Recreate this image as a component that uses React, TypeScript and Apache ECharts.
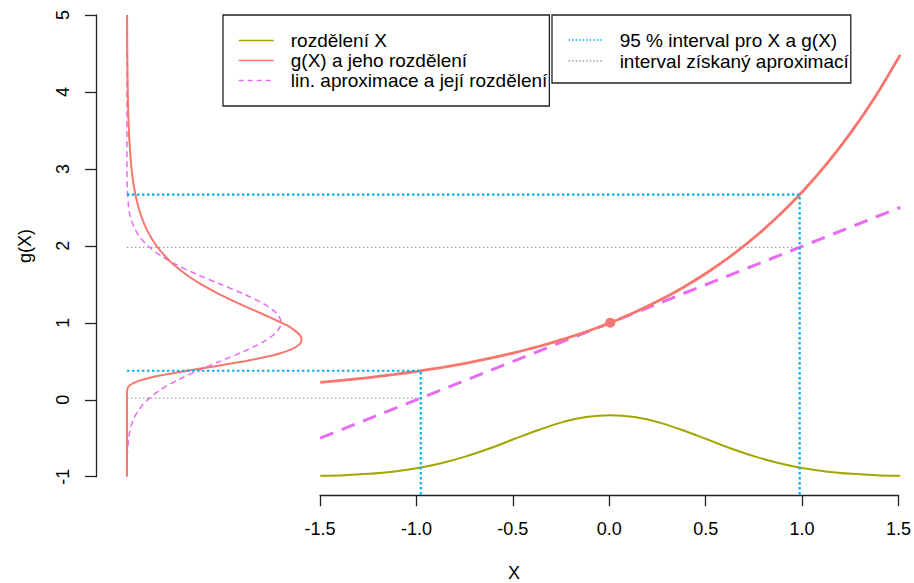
import React, { useEffect, useRef } from 'react';
import * as echarts from 'echarts';

const FONT = '"Liberation Sans", Arial, Helvetica, sans-serif';

// Axis ticks
const xTicks = [-1.5, -1.0, -0.5, 0.0, 0.5, 1.0, 1.5];
const yTicks = [-1, 0, 1, 2, 3, 4, 5];

// Right part: X, g(X)=exp(X), density of X (drawn from baseline -1)
const xValues = [-1.5, -1.375, -1.25, -1.125, -1, -0.875, -0.75, -0.625, -0.5, -0.375, -0.25, -0.125, 0,
  0.125, 0.25, 0.375, 0.5, 0.625, 0.75, 0.875, 1, 1.125, 1.25, 1.375, 1.5];
const gOfX = [0.223, 0.253, 0.287, 0.325, 0.368, 0.417, 0.472, 0.535, 0.607, 0.687, 0.779, 0.882, 1.0,
  1.133, 1.284, 1.455, 1.649, 1.868, 2.117, 2.399, 2.718, 3.08, 3.49, 3.955, 4.482];
const densityX = [-0.991, -0.982, -0.965, -0.937, -0.892, -0.827, -0.741, -0.635, -0.516, -0.398, -0.296, -0.227, -0.202,
  -0.227, -0.296, -0.398, -0.516, -0.635, -0.741, -0.827, -0.892, -0.937, -0.965, -0.982, -0.991];

// Linear approximation
const linApproxX = [-1.5, 1.5];
const linApproxY = [-0.5, 2.5];

// Left part: densities drawn sideways from a baseline
const densityBaseline = -2.5;
const gLevels = [-1, 0, 0.1, 0.15, 0.175, 0.2, 0.225, 0.25, 0.275, 0.3, 0.325, 0.35, 0.375, 0.4, 0.45, 0.5, 0.55,
  0.6, 0.65, 0.7, 0.75, 0.8, 0.85, 0.9, 0.95, 1.0, 1.05, 1.1, 1.2, 1.3, 1.4, 1.5, 1.6, 1.7, 1.8, 2.0, 2.2, 2.4,
  2.6, 2.8, 3.0, 3.5, 4.0, 4.5, 5.0];
const gDensity = [0, 0, 0.0002, 0.004, 0.0105, 0.0225, 0.0414, 0.0684, 0.1035, 0.1464, 0.1963, 0.2515, 0.3106,
  0.372, 0.4954, 0.6104, 0.7098, 0.7891, 0.8469, 0.8838, 0.9015, 0.9028, 0.8904, 0.8671, 0.8399, 0.7979, 0.7563,
  0.7123, 0.6222, 0.5349, 0.4545, 0.3829, 0.3206, 0.2673, 0.2221, 0.1526, 0.1046, 0.0718, 0.0494, 0.0342, 0.0238,
  0.0099, 0.0043, 0.0019, 0.0009];
const linLevels = [-1, -0.75, -0.5, -0.375, -0.25, -0.125, 0, 0.125, 0.25, 0.375, 0.5, 0.625, 0.75, 0.875, 1,
  1.125, 1.25, 1.375, 1.5, 1.625, 1.75, 1.875, 2, 2.125, 2.25, 2.375, 2.5, 2.75, 3, 3.5, 4, 4.5, 5];
const linDensity = [0.0003, 0.0017, 0.0089, 0.0182, 0.0351, 0.0635, 0.108, 0.1726, 0.2591, 0.3653, 0.4839, 0.6023,
  0.7041, 0.7733, 0.7979, 0.7733, 0.7041, 0.6023, 0.4839, 0.3653, 0.2591, 0.1726, 0.108, 0.0635, 0.0351, 0.0182,
  0.0089, 0.0017, 0.0003, 0, 0, 0, 0];

// Intervals
const xInterval = [-0.98, 0.98];
const gInterval = [0.375, 2.664];
const approxInterval = [0.02, 1.98];
const centerPoint = [0, 1];
const plotBottom = -1.24;

// Legend labels
const legendLeft = ['rozdělení X', 'g(X) a jeho rozdělení', 'lin. aproximace a její rozdělení'];
const legendRight = ['95 % interval pro X a g(X)', 'interval získaný aproximací'];

const GREEN = '#A3A500';
const RED = '#F8766D';
const MAGENTA = '#E76BF3';
const BLUE = '#00B0F6';
const GRAY = '#9E9E9E';

const hiddenSymbol = { color: 'rgba(0,0,0,0)', borderWidth: 0, opacity: 0 };

function buildOption(): any {
  const line = (name: string, data: number[][], color: string, width: number, type: any, smooth: any = false) => ({
    type: 'line', name, data, symbol: 'none', smooth, silent: true,
    xAxisIndex: 0, yAxisIndex: 0,
    lineStyle: { color, width, type }, itemStyle: { color },
  });

  const gMain = xValues.map((x, i) => [x, gOfX[i]]);
  const dX = xValues.map((x, i) => [x, densityX[i]]);
  const lin = linApproxX.map((x, i) => [x, linApproxY[i]]);
  const gLeft = gLevels.map((y, i) => [densityBaseline + gDensity[i], y]);
  const linLeft = linLevels.map((y, i) => [densityBaseline + linDensity[i], y]);

  const blue1 = [[densityBaseline, gInterval[0]], [xInterval[0], gInterval[0]], [xInterval[0], plotBottom]];
  const blue2 = [[densityBaseline, gInterval[1]], [xInterval[1], gInterval[1]], [xInterval[1], plotBottom]];
  const gray1 = [[densityBaseline, approxInterval[0]], [xInterval[0], approxInterval[0]]];
  const gray2 = [[densityBaseline, approxInterval[1]], [xInterval[1], approxInterval[1]]];

  const textStyle = { fontFamily: FONT, color: '#000' };

  return {
    animation: false,
    backgroundColor: '#ffffff',
    textStyle,
    grid: [
      { left: 96, top: 0, width: 818, height: 495 },
      { left: 96, top: 15, width: 10, height: 461.7 },
      { left: 320, top: 485, width: 580, height: 10.3 },
    ],
    xAxis: [
      { gridIndex: 0, type: 'value', min: -2.66, max: 1.5714, show: false },
      { gridIndex: 1, type: 'value', min: 0, max: 1, show: false },
      {
        gridIndex: 2, type: 'value', position: 'bottom',
        min: xTicks[0], max: xTicks[xTicks.length - 1], interval: xTicks[1] - xTicks[0],
        axisLine: { show: true, onZero: false, lineStyle: { color: '#222', width: 1.3 } },
        axisTick: { show: true, inside: false, length: 11, lineStyle: { color: '#222', width: 1.3 } },
        axisLabel: { fontSize: 18, margin: 25, color: '#000', fontFamily: FONT, formatter: (v: number) => v.toFixed(1) },
        splitLine: { show: false },
      },
    ],
    yAxis: [
      { gridIndex: 0, type: 'value', min: plotBottom, max: 5.195, show: false },
      {
        gridIndex: 1, type: 'value', position: 'left',
        min: yTicks[0], max: yTicks[yTicks.length - 1], interval: yTicks[1] - yTicks[0],
        axisLine: { show: true, onZero: false, lineStyle: { color: '#222', width: 1.3 } },
        axisTick: { show: true, inside: false, length: 11, lineStyle: { color: '#222', width: 1.3 } },
        axisLabel: { fontSize: 18, margin: 24, rotate: 90, color: '#000', fontFamily: FONT },
        splitLine: { show: false },
      },
      { gridIndex: 2, type: 'value', min: 0, max: 1, show: false },
    ],
    legend: [
      {
        left: 223, top: 15, orient: 'vertical', selectedMode: false,
        itemWidth: 35, itemHeight: 14, itemGap: 0,
        padding: [15.5, 2, 15.5, 15],
        borderColor: '#222', borderWidth: 1.3, borderRadius: 0,
        itemStyle: hiddenSymbol,
        textStyle: { fontSize: 19, lineHeight: 20, color: '#000', fontFamily: FONT, padding: [0, 0, 0, 12] },
        data: [
          { name: legendLeft[0], itemStyle: hiddenSymbol, lineStyle: { color: GREEN, width: 1.5, type: 'solid' } },
          { name: legendLeft[1], itemStyle: hiddenSymbol, lineStyle: { color: RED, width: 1.5, type: 'solid' } },
          { name: legendLeft[2], itemStyle: hiddenSymbol, lineStyle: { color: MAGENTA, width: 1.5, type: [5, 4] } },
        ],
      },
      {
        left: 552, top: 15, orient: 'vertical', selectedMode: false,
        itemWidth: 35, itemHeight: 14, itemGap: 1,
        padding: [15, 2, 12, 16],
        borderColor: '#222', borderWidth: 1.3, borderRadius: 0,
        itemStyle: hiddenSymbol,
        textStyle: { fontSize: 19, lineHeight: 20, color: '#000', fontFamily: FONT, padding: [0, 0, 0, 11] },
        data: [
          { name: legendRight[0], itemStyle: hiddenSymbol, lineStyle: { color: BLUE, width: 1.3, type: [1.5, 2] } },
          { name: legendRight[1], itemStyle: hiddenSymbol, lineStyle: { color: GRAY, width: 1.3, type: [1.5, 2] } },
        ],
      },
    ],
    graphic: [
      {
        type: 'text', x: 514, y: 573,
        style: { text: 'X', fontSize: 18, fontFamily: FONT, fill: '#000', align: 'center', verticalAlign: 'middle' },
      },
      {
        type: 'text', x: 25, y: 246, rotation: Math.PI / 2,
        style: { text: 'g(X)', fontSize: 18, fontFamily: FONT, fill: '#000', align: 'center', verticalAlign: 'middle' },
      },
    ],
    series: [
      line(legendLeft[0], dX, GREEN, 2, 'solid', 0.3),
      line(legendLeft[2], lin, MAGENTA, 3, [14, 9]),
      line(legendLeft[2], linLeft, MAGENTA, 1.5, [6, 4], 0.3),
      line(legendLeft[1], gLeft, RED, 2, 'solid', 0.2),
      line(legendLeft[1], gMain, RED, 2.8, 'solid', 0.3),
      line(legendRight[1], gray1, GRAY, 1.3, [1.5, 2.5]),
      line(legendRight[1], gray2, GRAY, 1.3, [1.5, 2.5]),
      line(legendRight[0], blue1, BLUE, 2.2, [2.5, 2.5]),
      line(legendRight[0], blue2, BLUE, 2.2, [2.5, 2.5]),
      {
        type: 'scatter', name: 'bod', xAxisIndex: 0, yAxisIndex: 0, silent: true,
        data: [centerPoint], symbol: 'circle', symbolSize: 10, itemStyle: { color: RED, opacity: 1 },
      },
    ],
  };
}

export default function App() {
  const ref = useRef<HTMLDivElement>(null);
  useEffect(() => {
    if (!ref.current) return;
    const chart = echarts.init(ref.current, null, { renderer: 'svg' });
    chart.setOption(buildOption());
    return () => chart.dispose();
  }, []);
  return (
    <div
      ref={ref}
      style={{ position: 'absolute', left: 0, top: 0, width: 914, height: 583, background: '#fff' }}
    />
  );
}
